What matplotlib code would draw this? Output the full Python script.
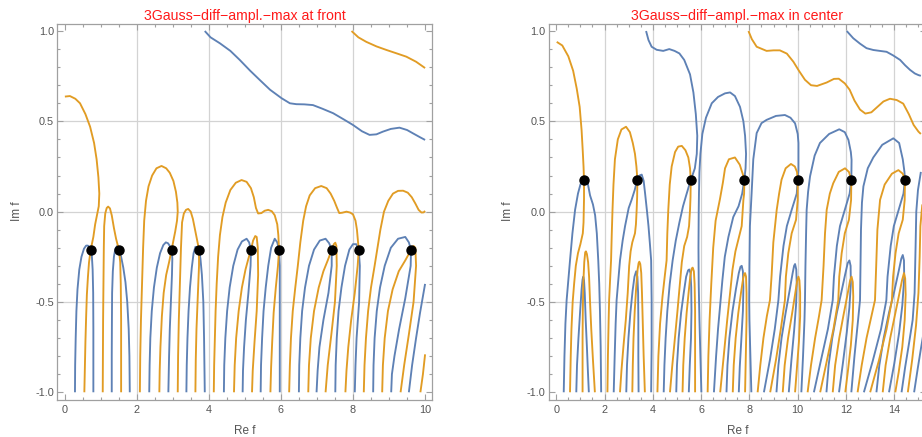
import matplotlib
matplotlib.use("Agg")
import matplotlib.pyplot as plt
from matplotlib.ticker import MultipleLocator, FormatStrFormatter

BLUE = "#5e81b5"
ORANGE = "#e19c24"
plt.rcParams['font.family'] = ['Liberation Sans', 'DejaVu Sans']

left_title = "3Gauss\u2212diff\u2212ampl.\u2212max at front"
right_title = "3Gauss\u2212diff\u2212ampl.\u2212max in center"
x_label = "Re f"
y_label = "Im f"

# ---------------- left panel data ----------------
left_zero_x = [0.725, 1.51, 2.97, 3.73, 5.17, 5.95, 7.41, 8.16, 9.61]
left_zero_y = [-0.212, -0.212, -0.212, -0.212, -0.212, -0.212, -0.212, -0.212, -0.212]

lb_top = [(3.89, 1.0), (4.05, 0.965), (4.31, 0.932), (4.6, 0.89), (4.86, 0.84), (5.15, 0.78), (5.41, 0.73),
          (5.7, 0.675), (6.02, 0.628), (6.25, 0.60), (6.43, 0.595), (6.65, 0.594), (6.89, 0.59), (7.15, 0.57),
          (7.45, 0.545), (7.75, 0.51), (8.0, 0.48), (8.25, 0.445), (8.46, 0.425), (8.65, 0.428), (8.83, 0.443),
          (9.05, 0.458), (9.29, 0.465), (9.5, 0.452), (9.66, 0.434), (9.85, 0.413), (10.0, 0.397)]
lo_top = [(7.96, 1.0), (8.15, 0.965), (8.37, 0.94), (8.65, 0.915), (8.93, 0.895), (9.2, 0.877), (9.48, 0.858),
          (9.75, 0.83), (10.0, 0.795)]
lo_1 = [(0.01, 0.637), (0.15, 0.64), (0.30, 0.625), (0.43, 0.60), (0.58, 0.54), (0.71, 0.47), (0.82, 0.38),
        (0.89, 0.29), (0.94, 0.19), (0.965, 0.10), (0.95, 0.03), (0.91, -0.01), (0.85, -0.07), (0.80, -0.14),
        (0.725, -0.212), (0.68, -0.28), (0.65, -0.36), (0.62, -0.46), (0.60, -0.58), (0.58, -0.72),
        (0.565, -0.86), (0.55, -1.0)]
lb_1 = [(0.29, -1.0), (0.295, -0.85), (0.31, -0.7), (0.33, -0.55), (0.36, -0.43), (0.41, -0.32), (0.47, -0.25),
        (0.54, -0.205), (0.60, -0.188), (0.65, -0.188), (0.69, -0.198), (0.725, -0.212), (0.76, -0.25),
        (0.78, -0.32), (0.795, -0.45), (0.80, -0.65), (0.80, -1.0)]
lo_2 = [(1.06, -1.0), (1.065, -0.8), (1.07, -0.6), (1.08, -0.4), (1.09, -0.2), (1.10, -0.08), (1.13, -0.01),
        (1.17, 0.02), (1.21, 0.028), (1.26, 0.018), (1.31, -0.02), (1.37, -0.09), (1.43, -0.15), (1.51, -0.212),
        (1.545, -0.28), (1.56, -0.4), (1.57, -0.6), (1.57, -1.0)]
lb_2 = [(1.31, -1.0), (1.31, -0.8), (1.315, -0.6), (1.32, -0.45), (1.34, -0.33), (1.37, -0.25), (1.41, -0.205),
        (1.46, -0.19), (1.51, -0.212), (1.57, -0.25), (1.63, -0.31), (1.69, -0.39), (1.74, -0.5), (1.78, -0.65),
        (1.80, -0.8), (1.81, -1.0)]
lo_3 = [(2.09, -1.0), (2.10, -0.8), (2.12, -0.6), (2.15, -0.4), (2.18, -0.2), (2.21, -0.05), (2.26, 0.06),
        (2.33, 0.14), (2.43, 0.2), (2.55, 0.24), (2.69, 0.253), (2.82, 0.24), (2.92, 0.215), (3.02, 0.17),
        (3.09, 0.11), (3.13, 0.05), (3.14, 0.0), (3.12, -0.05), (3.07, -0.11), (3.02, -0.16), (2.97, -0.212),
        (2.90, -0.28), (2.82, -0.35), (2.75, -0.45), (2.70, -0.58), (2.66, -0.75), (2.64, -0.88), (2.63, -1.0)]
lb_3 = [(2.35, -1.0), (2.36, -0.85), (2.38, -0.7), (2.42, -0.55), (2.48, -0.42), (2.56, -0.31), (2.65, -0.23),
        (2.74, -0.185), (2.81, -0.17), (2.87, -0.175), (2.92, -0.19), (2.97, -0.212), (2.99, -0.26),
        (2.98, -0.35), (2.95, -0.5), (2.92, -0.65), (2.90, -0.8), (2.88, -1.0)]
lo_4 = [(3.14, -1.0), (3.15, -0.8), (3.17, -0.6), (3.2, -0.4), (3.23, -0.2), (3.26, -0.06), (3.31, -0.01),
        (3.37, 0.01), (3.43, 0.015), (3.5, 0.0), (3.56, -0.04), (3.62, -0.1), (3.68, -0.16), (3.73, -0.212),
        (3.73, -0.3), (3.7, -0.45), (3.66, -0.65), (3.64, -0.82), (3.63, -1.0)]
lb_4 = [(3.38, -1.0), (3.39, -0.85), (3.41, -0.7), (3.44, -0.55), (3.48, -0.42), (3.53, -0.31), (3.58, -0.23),
        (3.63, -0.195), (3.68, -0.195), (3.73, -0.212), (3.77, -0.26), (3.81, -0.35), (3.85, -0.5),
        (3.87, -0.7), (3.89, -1.0)]
lo_5 = [(4.14, -1.0), (4.15, -0.85), (4.17, -0.7), (4.19, -0.55), (4.22, -0.4), (4.26, -0.25), (4.31, -0.13),
        (4.38, -0.03), (4.47, 0.05), (4.6, 0.12), (4.75, 0.16), (4.91, 0.175), (5.05, 0.165), (5.17, 0.13),
        (5.25, 0.08), (5.31, 0.02), (5.37, -0.01), (5.46, -0.008), (5.55, 0.005), (5.65, 0.01), (5.75, 0.002),
        (5.83, -0.02), (5.9, -0.07), (5.93, -0.13), (5.95, -0.212), (5.92, -0.3), (5.86, -0.42), (5.8, -0.56),
        (5.76, -0.72), (5.73, -0.86), (5.71, -1.0)]
lb_5 = [(4.42, -1.0), (4.43, -0.85), (4.46, -0.7), (4.51, -0.55), (4.58, -0.42), (4.68, -0.3), (4.8, -0.21),
        (4.92, -0.165), (5.05, -0.15), (5.12, -0.17), (5.17, -0.212), (5.16, -0.3), (5.1, -0.45), (5.03, -0.6),
        (4.98, -0.75), (4.95, -0.88), (4.94, -1.0)]
lo_6 = [(4.70, -1.0), (4.72, -0.85), (4.76, -0.7), (4.83, -0.55), (4.92, -0.42), (5.02, -0.32), (5.1, -0.26),
        (5.17, -0.212), (5.23, -0.16), (5.29, -0.135), (5.33, -0.14), (5.36, -0.2), (5.37, -0.35), (5.33, -0.55),
        (5.27, -0.72), (5.22, -0.88), (5.20, -1.0)]
lb_6 = [(5.44, -1.0), (5.45, -0.85), (5.48, -0.7), (5.52, -0.55), (5.58, -0.42), (5.65, -0.3), (5.73, -0.2),
        (5.83, -0.15), (5.9, -0.17), (5.95, -0.212), (5.97, -0.3), (5.97, -0.5), (5.97, -0.75), (5.97, -1.0)]
lo_7 = [(6.23, -1.0), (6.25, -0.85), (6.28, -0.7), (6.33, -0.55), (6.40, -0.42), (6.47, -0.3), (6.54, -0.17),
        (6.62, -0.05), (6.70, 0.03), (6.8, 0.09), (6.95, 0.13), (7.12, 0.142), (7.27, 0.13), (7.38, 0.1),
        (7.48, 0.06), (7.56, 0.02), (7.62, -0.008), (7.7, -0.006), (7.82, 0.0), (7.92, -0.005), (8.0, -0.015),
        (8.07, -0.05), (8.11, -0.1), (8.16, -0.212), (8.13, -0.3), (8.05, -0.45), (7.95, -0.6), (7.87, -0.75),
        (7.82, -0.88), (7.79, -1.0)]
lb_7 = [(6.50, -1.0), (6.51, -0.85), (6.54, -0.7), (6.59, -0.55), (6.67, -0.42), (6.78, -0.3), (6.92, -0.21),
        (7.08, -0.16), (7.24, -0.15), (7.34, -0.175), (7.41, -0.212), (7.41, -0.3), (7.32, -0.45), (7.18, -0.6),
        (7.07, -0.75), (7.02, -0.88), (6.99, -1.0)]
lo_8 = [(6.76, -1.0), (6.78, -0.85), (6.83, -0.7), (6.92, -0.55), (7.05, -0.42), (7.18, -0.33), (7.3, -0.27),
        (7.41, -0.212), (7.47, -0.18), (7.51, -0.172), (7.54, -0.19), (7.55, -0.3), (7.5, -0.5), (7.4, -0.68),
        (7.3, -0.85), (7.24, -1.0)]
lb_8 = [(7.51, -1.0), (7.52, -0.85), (7.55, -0.7), (7.6, -0.55), (7.68, -0.42), (7.78, -0.3), (7.9, -0.21),
        (8.0, -0.18), (8.09, -0.18), (8.16, -0.212), (8.19, -0.3), (8.17, -0.5), (8.1, -0.7), (8.07, -0.85),
        (8.05, -1.0)]
lo_9 = [(8.30, -1.0), (8.32, -0.85), (8.36, -0.7), (8.42, -0.55), (8.5, -0.42), (8.6, -0.3), (8.68, -0.2),
        (8.76, -0.1), (8.86, 0.0), (8.98, 0.06), (9.11, 0.1), (9.25, 0.115), (9.39, 0.116), (9.52, 0.105),
        (9.63, 0.08), (9.73, 0.045), (9.82, 0.01), (9.9, -0.005), (9.96, -0.004), (10.0, 0.004)]
lb_9 = [(8.56, -1.0), (8.57, -0.85), (8.6, -0.7), (8.66, -0.55), (8.75, -0.42), (8.88, -0.3), (9.05, -0.2),
        (9.25, -0.15), (9.45, -0.14), (9.55, -0.17), (9.61, -0.212), (9.6, -0.3), (9.45, -0.48), (9.28, -0.65),
        (9.15, -0.8), (9.08, -0.9), (9.06, -1.0)]
lo_10 = [(8.81, -1.0), (8.83, -0.85), (8.88, -0.7), (8.97, -0.55), (9.1, -0.43), (9.27, -0.33), (9.45, -0.27),
         (9.61, -0.212), (9.68, -0.19), (9.73, -0.2), (9.75, -0.3), (9.68, -0.5), (9.55, -0.68), (9.42, -0.85),
         (9.32, -1.0)]
lb_10 = [(9.55, -1.0), (9.64, -0.85), (9.75, -0.7), (9.86, -0.56), (10.0, -0.40)]
lo_11 = [(9.87, -1.0), (9.94, -0.9), (10.0, -0.79)]

left_blue = [lb_top, lb_1, lb_2, lb_3, lb_4, lb_5, lb_6, lb_7, lb_8, lb_9, lb_10]
left_orange = [lo_top, lo_1, lo_2, lo_3, lo_4, lo_5, lo_6, lo_7, lo_8, lo_9, lo_10, lo_11]

# ---------------- right panel data ----------------
right_zero_x = [1.15, 3.36, 5.58, 7.79, 10.0, 12.22, 14.44]
right_zero_y = [0.177, 0.177, 0.177, 0.177, 0.177, 0.177, 0.177]

rb_top1 = [(3.72, 1.0), (3.82, 0.95), (3.95, 0.913), (4.16, 0.896), (4.43, 0.89), (4.68, 0.90), (4.9, 0.89),
           (5.1, 0.876), (5.3, 0.84), (5.54, 0.76), (5.68, 0.66), (5.78, 0.54), (5.84, 0.42), (5.82, 0.32),
           (5.74, 0.24), (5.58, 0.177)]
rb_top2 = [(12.03, 1.0), (12.3, 0.96), (12.58, 0.93), (12.85, 0.905), (13.13, 0.895), (13.4, 0.89),
           (13.68, 0.885), (13.95, 0.865), (14.24, 0.84), (14.45, 0.81), (14.65, 0.785), (14.85, 0.765),
           (15.0, 0.756), (15.1, 0.752)]
ro_top = [(7.96, 1.0), (8.1, 0.955), (8.3, 0.913), (8.71, 0.89), (9.0, 0.893), (9.26, 0.893), (9.55, 0.875),
          (9.82, 0.83), (10.05, 0.78), (10.3, 0.73), (10.55, 0.70), (10.8, 0.696), (11.2, 0.715), (11.5, 0.735),
          (11.7, 0.736), (11.95, 0.71), (12.15, 0.675), (12.35, 0.615), (12.58, 0.565), (12.8, 0.543),
          (13.05, 0.55), (13.3, 0.58), (13.55, 0.61), (13.82, 0.625), (14.1, 0.618), (14.37, 0.598),
          (14.6, 0.54), (14.8, 0.48), (15.0, 0.443), (15.1, 0.43)]
# around zero 1.15
ro_0 = [(0.02, 0.94), (0.25, 0.92), (0.5, 0.86), (0.7, 0.78), (0.85, 0.68), (0.97, 0.58), (1.05, 0.45),
        (1.1, 0.33), (1.13, 0.25), (1.15, 0.177), (1.15, 0.07), (1.13, -0.06), (1.1, -0.12), (1.0, -0.18),
        (0.9, -0.23), (0.81, -0.3), (0.74, -0.4), (0.68, -0.5), (0.63, -0.65), (0.6, -0.8), (0.57, -1.0)]
rb_0 = [(0.31, -1.0), (0.34, -0.8), (0.38, -0.62), (0.43, -0.49), (0.5, -0.38), (0.57, -0.27), (0.67, -0.12),
        (0.78, 0.01), (0.9, 0.1), (1.0, 0.15), (1.08, 0.172), (1.15, 0.177), (1.22, 0.18), (1.3, 0.16),
        (1.4, 0.09), (1.52, 0.04), (1.61, -0.02), (1.68, -0.12), (1.74, -0.27), (1.78, -0.4), (1.81, -0.55),
        (1.84, -0.75), (1.86, -1.0)]
rb_s0 = [(0.83, -1.0), (0.86, -0.85), (0.92, -0.7), (0.99, -0.55), (1.05, -0.43), (1.09, -0.375), (1.12, -0.36),
         (1.15, -0.38), (1.18, -0.45), (1.22, -0.6), (1.27, -0.75), (1.31, -0.88), (1.35, -1.0)]
ro_s0 = [(1.09, -1.0), (1.09, -0.85), (1.09, -0.7), (1.1, -0.55), (1.12, -0.4), (1.16, -0.28), (1.2, -0.225),
         (1.23, -0.22), (1.27, -0.235), (1.32, -0.28), (1.36, -0.36), (1.4, -0.5), (1.45, -0.65), (1.52, -0.82),
         (1.60, -1.0)]
# around zero 3.36
ro_1 = [(2.12, -1.0), (2.14, -0.8), (2.17, -0.6), (2.19, -0.49), (2.24, -0.35), (2.27, -0.27), (2.3, -0.12),
        (2.33, 0.01), (2.37, 0.15), (2.43, 0.29), (2.55, 0.4), (2.7, 0.455), (2.89, 0.47), (3.05, 0.44),
        (3.17, 0.38), (3.26, 0.32), (3.32, 0.25), (3.36, 0.177), (3.35, 0.08), (3.33, 0.01), (3.3, -0.07),
        (3.26, -0.12), (3.15, -0.17), (3.08, -0.22), (3.02, -0.3), (2.96, -0.45), (2.88, -0.6), (2.78, -0.75),
        (2.7, -0.88), (2.64, -1.0)]
rb_1 = [(2.38, -1.0), (2.42, -0.8), (2.46, -0.62), (2.5, -0.49), (2.57, -0.38), (2.64, -0.27), (2.75, -0.16),
        (2.85, -0.08), (3.0, 0.02), (3.12, 0.065), (3.25, 0.12), (3.36, 0.177), (3.45, 0.2), (3.54, 0.205),
        (3.62, 0.17), (3.68, 0.1), (3.76, 0.0), (3.82, -0.08), (3.88, -0.18), (3.93, -0.27), (3.95, -0.49),
        (3.95, -0.75), (3.93, -1.0)]
rb_s1 = [(2.9, -1.0), (2.93, -0.85), (2.99, -0.7), (3.07, -0.56), (3.16, -0.44), (3.24, -0.36), (3.31, -0.33),
         (3.36, -0.36), (3.39, -0.45), (3.4, -0.6), (3.4, -0.8), (3.41, -1.0)]
ro_s1 = [(3.15, -1.0), (3.17, -0.85), (3.2, -0.7), (3.25, -0.55), (3.31, -0.42), (3.37, -0.32), (3.41, -0.285),
         (3.44, -0.277), (3.48, -0.29), (3.52, -0.34), (3.55, -0.45), (3.58, -0.6), (3.62, -0.8), (3.67, -1.0)]
# around zero 5.58
ro_2 = [(4.19, -1.0), (4.23, -0.8), (4.3, -0.62), (4.4, -0.47), (4.5, -0.35), (4.57, -0.27), (4.6, -0.12),
        (4.64, 0.01), (4.7, 0.15), (4.78, 0.25), (4.92, 0.33), (5.05, 0.36), (5.2, 0.364), (5.35, 0.34),
        (5.47, 0.3), (5.54, 0.24), (5.57, 0.177), (5.56, 0.08), (5.54, 0.01), (5.5, -0.08), (5.42, -0.14),
        (5.3, -0.19), (5.2, -0.28), (5.12, -0.4), (5.02, -0.55), (4.9, -0.72), (4.8, -0.86), (4.71, -1.0)]
rb_2 = [(4.45, -1.0), (4.48, -0.85), (4.53, -0.7), (4.6, -0.55), (4.7, -0.4), (4.82, -0.27), (4.95, -0.16),
        (5.1, -0.06), (5.25, 0.03), (5.38, 0.09), (5.48, 0.135), (5.58, 0.177)]
rb_s2 = [(4.97, -1.0), (5.0, -0.85), (5.07, -0.7), (5.17, -0.56), (5.28, -0.45), (5.38, -0.36), (5.46, -0.325),
         (5.51, -0.32), (5.56, -0.34), (5.59, -0.42), (5.6, -0.55), (5.58, -0.7), (5.53, -0.85), (5.49, -1.0)]
ro_s2 = [(5.23, -1.0), (5.26, -0.85), (5.32, -0.7), (5.4, -0.56), (5.48, -0.45), (5.55, -0.36), (5.61, -0.315),
         (5.65, -0.31), (5.7, -0.33), (5.73, -0.4), (5.75, -0.55), (5.75, -0.75), (5.75, -1.0)]
# around zero 7.79
rb_3 = [(6.01, -1.0), (5.97, -0.8), (5.93, -0.6), (5.9, -0.4), (5.89, -0.2), (5.9, 0.0), (5.91, 0.1),
        (5.93, 0.22), (5.97, 0.32), (6.05, 0.43), (6.2, 0.52), (6.44, 0.60), (6.7, 0.635), (6.99, 0.655),
        (7.2, 0.66), (7.4, 0.64), (7.61, 0.58), (7.75, 0.5), (7.82, 0.42), (7.86, 0.32), (7.84, 0.24),
        (7.79, 0.177), (7.7, 0.1), (7.55, 0.03), (7.33, -0.03), (7.13, -0.14), (6.98, -0.25), (6.88, -0.38),
        (6.8, -0.5), (6.7, -0.65), (6.62, -0.8), (6.53, -1.0)]
ro_3 = [(6.27, -1.0), (6.3, -0.8), (6.35, -0.6), (6.42, -0.4), (6.5, -0.2), (6.6, -0.05), (6.78, 0.07),
        (6.9, 0.16), (6.99, 0.24), (7.15, 0.29), (7.4, 0.30), (7.6, 0.26), (7.72, 0.21), (7.79, 0.177),
        (7.78, 0.1), (7.75, 0.065), (7.68, -0.08), (7.55, -0.15), (7.42, -0.22), (7.3, -0.32), (7.2, -0.45),
        (7.08, -0.6), (6.95, -0.78), (6.79, -1.0)]
rb_s3 = [(7.05, -1.0), (7.09, -0.85), (7.17, -0.7), (7.3, -0.55), (7.44, -0.43), (7.56, -0.34), (7.63, -0.305),
         (7.68, -0.30), (7.73, -0.33), (7.75, -0.42), (7.73, -0.55), (7.66, -0.72), (7.6, -0.86), (7.56, -1.0)]
ro_s3 = [(7.31, -1.0), (7.35, -0.85), (7.43, -0.7), (7.54, -0.56), (7.65, -0.45), (7.74, -0.37), (7.79, -0.343),
         (7.82, -0.34), (7.86, -0.36), (7.88, -0.45), (7.88, -0.6), (7.85, -0.8), (7.82, -1.0)]
# around zero 10.0
rb_4 = [(8.08, -1.0), (8.04, -0.8), (8.0, -0.6), (7.99, -0.49), (8.0, -0.3), (8.02, -0.08), (8.09, 0.1),
        (8.16, 0.29), (8.3, 0.435), (8.5, 0.49), (8.71, 0.508), (9.1, 0.53), (9.47, 0.535), (9.7, 0.52),
        (9.89, 0.489), (10.0, 0.43), (10.03, 0.38), (10.03, 0.23), (10.0, 0.177), (9.96, 0.1), (9.75, 0.01),
        (9.55, -0.08), (9.41, -0.19), (9.27, -0.36), (9.2, -0.49), (9.05, -0.65), (8.85, -0.82), (8.6, -1.0)]
ro_4 = [(8.34, -1.0), (8.45, -0.85), (8.58, -0.7), (8.72, -0.58), (8.85, -0.49), (8.92, -0.35), (8.99, -0.17),
        (9.13, 0.01), (9.23, 0.1), (9.33, 0.177), (9.5, 0.24), (9.72, 0.264), (9.88, 0.25), (9.97, 0.22),
        (10.0, 0.177), (10.0, 0.065), (9.93, -0.045), (9.75, -0.12), (9.61, -0.23), (9.51, -0.36),
        (9.47, -0.49), (9.3, -0.65), (9.1, -0.82), (8.86, -1.0)]
rb_s4 = [(9.12, -1.0), (9.2, -0.85), (9.33, -0.7), (9.5, -0.56), (9.66, -0.44), (9.79, -0.34), (9.85, -0.3),
         (9.89, -0.29), (9.94, -0.32), (9.96, -0.4), (9.93, -0.52), (9.85, -0.66), (9.74, -0.82), (9.63, -1.0)]
ro_s4 = [(9.38, -1.0), (9.46, -0.85), (9.6, -0.7), (9.76, -0.57), (9.9, -0.45), (9.98, -0.38), (10.03, -0.36),
         (10.07, -0.38), (10.1, -0.45), (10.1, -0.58), (10.05, -0.72), (9.97, -0.86), (9.89, -1.0)]
# around zero 12.22
rb_5 = [(10.15, -1.0), (10.22, -0.8), (10.28, -0.6), (10.3, -0.49), (10.32, -0.3), (10.35, -0.1),
        (10.37, 0.01), (10.43, 0.11), (10.51, 0.195), (10.7, 0.31), (10.92, 0.38), (11.3, 0.43), (11.72, 0.456),
        (11.95, 0.44), (12.1, 0.397), (12.2, 0.33), (12.23, 0.287), (12.22, 0.177), (12.15, 0.1),
        (11.95, 0.01), (11.75, -0.08), (11.62, -0.19), (11.5, -0.36), (11.45, -0.49), (11.25, -0.65),
        (10.95, -0.83), (10.67, -1.0)]
ro_5 = [(10.41, -1.0), (10.55, -0.85), (10.72, -0.7), (10.88, -0.58), (10.99, -0.49), (11.07, -0.3),
        (11.13, -0.12), (11.2, 0.01), (11.33, 0.1), (11.47, 0.157), (11.7, 0.22), (11.96, 0.24), (12.12, 0.22),
        (12.22, 0.177), (12.21, 0.065), (12.12, -0.045), (11.95, -0.12), (11.82, -0.23), (11.72, -0.36),
        (11.68, -0.49), (11.48, -0.65), (11.2, -0.83), (10.93, -1.0)]
rb_s5 = [(11.19, -1.0), (11.28, -0.85), (11.43, -0.7), (11.62, -0.56), (11.8, -0.45), (11.96, -0.35),
         (12.07, -0.285), (12.14, -0.27), (12.19, -0.3), (12.2, -0.4), (12.14, -0.53), (12.03, -0.67),
         (11.87, -0.84), (11.71, -1.0)]
ro_s5 = [(11.45, -1.0), (11.55, -0.85), (11.72, -0.7), (11.9, -0.57), (12.06, -0.46), (12.17, -0.38),
         (12.23, -0.36), (12.28, -0.39), (12.3, -0.47), (12.28, -0.6), (12.2, -0.74), (12.08, -0.88),
         (11.97, -1.0)]
# around zero 14.44
rb_6 = [(12.22, -1.0), (12.35, -0.8), (12.5, -0.6), (12.58, -0.49), (12.6, -0.3), (12.62, -0.1), (12.66, 0.05),
        (12.72, 0.14), (12.9, 0.24), (13.13, 0.30), (13.5, 0.37), (13.96, 0.406), (14.2, 0.38), (14.35, 0.29),
        (14.42, 0.22), (14.44, 0.177), (14.38, 0.1), (14.18, 0.01), (13.98, -0.08), (13.85, -0.19),
        (13.72, -0.36), (13.67, -0.49), (13.45, -0.65), (13.1, -0.83), (12.74, -1.0)]
ro_6 = [(12.48, -1.0), (12.65, -0.85), (12.85, -0.7), (13.05, -0.58), (13.2, -0.49), (13.25, -0.3),
        (13.3, -0.1), (13.41, 0.065), (13.6, 0.15), (13.9, 0.21), (14.17, 0.23), (14.35, 0.21), (14.44, 0.177),
        (14.43, 0.065), (14.35, -0.045), (14.18, -0.12), (14.05, -0.23), (13.95, -0.36), (13.9, -0.49),
        (13.68, -0.65), (13.35, -0.83), (13.0, -1.0)]
rb_s6 = [(13.26, -1.0), (13.38, -0.85), (13.56, -0.7), (13.78, -0.56), (14.0, -0.44), (14.18, -0.33),
         (14.29, -0.26), (14.35, -0.24), (14.4, -0.27), (14.41, -0.37), (14.33, -0.52), (14.2, -0.67),
         (14.0, -0.84), (13.78, -1.0)]
ro_s6 = [(13.52, -1.0), (13.64, -0.85), (13.83, -0.7), (14.03, -0.57), (14.2, -0.46), (14.32, -0.38),
         (14.4, -0.34), (14.45, -0.37), (14.47, -0.46), (14.43, -0.6), (14.33, -0.75), (14.18, -0.89),
         (14.04, -1.0)]
# right edge
rb_7 = [(14.3, -1.0), (14.45, -0.86), (14.62, -0.72), (14.76, -0.6), (14.84, -0.45), (14.88, -0.2),
        (14.91, 0.0), (14.98, 0.12), (15.1, 0.22)]
ro_7 = [(14.56, -1.0), (14.74, -0.82), (14.9, -0.63), (15.0, -0.45), (15.05, -0.25), (15.08, -0.08),
        (15.16, 0.04)]
rb_8 = [(14.82, -1.0), (14.98, -0.86), (15.1, -0.76), (15.2, -0.68)]

right_blue = [rb_top1, rb_top2, rb_0, rb_s0, rb_1, rb_s1, rb_2, rb_s2, rb_3, rb_s3, rb_4, rb_s4, rb_5, rb_s5,
              rb_6, rb_s6, rb_7, rb_8]
right_orange = [ro_top, ro_0, ro_s0, ro_1, ro_s1, ro_2, ro_s2, ro_3, ro_s3, ro_4, ro_s4, ro_5, ro_s5, ro_6,
                ro_s6, ro_7]

left_grid_x = [2, 4, 6, 8]
right_grid_x = [2, 4, 6, 8, 10, 12, 14]
grid_y = [-0.5, 0.0, 0.5]

# ---------------- drawing ----------------
W, H = 922, 437
fig = plt.figure(figsize=(W / 100, H / 100), dpi=100)
ax1 = fig.add_axes([57.3 / W, 37.5 / H, 375.0 / W, 375.7 / H])
ax2 = fig.add_axes([549.0 / W, 37.5 / H, 376.7 / W, 375.7 / H])

FRAME = "#a0a0a0"
TXT = "#555555"


def style(ax, xmax, title, grid_x):
    pad = 0.02 * xmax
    ax.set_xlim(-pad, xmax + pad)
    ax.set_ylim(-1.04, 1.04)
    for gx in grid_x:
        ax.axvline(gx, color="#d3d3d3", lw=0.9, zorder=0)
    for gy in grid_y:
        ax.axhline(gy, color="#d3d3d3", lw=0.9, zorder=0)
    for s in ax.spines.values():
        s.set_color(FRAME)
        s.set_linewidth(0.9)
    ax.xaxis.set_major_locator(MultipleLocator(2))
    ax.xaxis.set_minor_locator(MultipleLocator(0.5))
    ax.yaxis.set_major_locator(MultipleLocator(0.5))
    ax.yaxis.set_minor_locator(MultipleLocator(0.1))
    ax.tick_params(which="both", direction="in", top=True, right=True, color=FRAME, labelcolor=TXT,
                   labelsize=7.8, width=0.8)
    ax.tick_params(which="major", length=4.2)
    ax.tick_params(which="minor", length=2.2)
    ax.tick_params(axis="x", pad=4.0)
    ax.tick_params(axis="y", pad=2.5)
    ax.set_xlabel(x_label, color=TXT, fontsize=8.5, labelpad=7.5)
    ax.set_ylabel(y_label, color=TXT, fontsize=8.5, labelpad=9)
    ax.set_title(title, color="#ff1a1a", fontsize=10.2, pad=3)
    ax.yaxis.set_major_formatter(FormatStrFormatter('%.1f'))
    ax.xaxis.set_major_formatter(FormatStrFormatter('%d'))


def draw(ax, blues, oranges, zx, zy):
    for c in blues:
        xs, ys = zip(*c)
        ax.plot(xs, ys, color=BLUE, lw=1.35, solid_joinstyle="round", solid_capstyle="butt", zorder=2)
    for c in oranges:
        xs, ys = zip(*c)
        ax.plot(xs, ys, color=ORANGE, lw=1.35, solid_joinstyle="round", solid_capstyle="butt", zorder=2)
    ax.plot(zx, zy, "o", color="black", ms=6.5, zorder=3)


style(ax1, 10, left_title, left_grid_x)
style(ax2, 15, right_title, right_grid_x)
draw(ax1, left_blue, left_orange, left_zero_x, left_zero_y)
draw(ax2, right_blue, right_orange, right_zero_x, right_zero_y)

fig.savefig("out.png", dpi=100)
